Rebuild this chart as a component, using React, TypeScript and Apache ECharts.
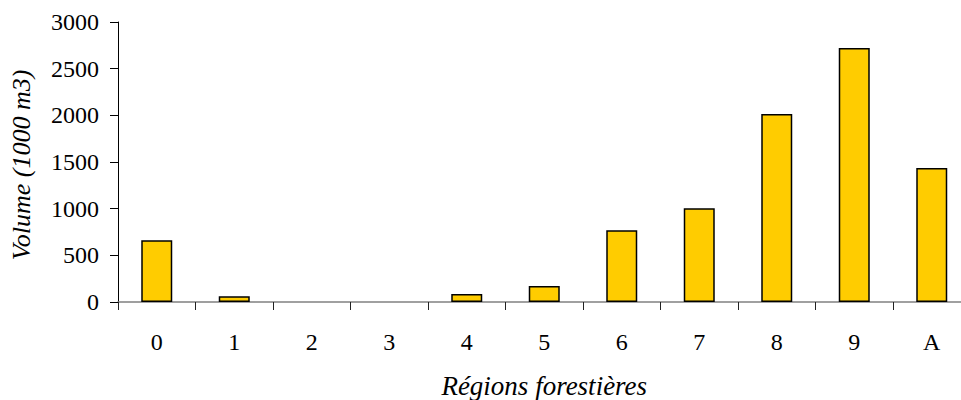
import React, { useEffect, useRef } from "react";
import * as echarts from "echarts";

const categories = ["0", "1", "2", "3", "4", "5", "6", "7", "8", "9", "A"];
const volumes = [662, 61, 0, 0, 86, 172, 769, 1005, 2013, 2721, 1437];
const yTicks = { min: 0, max: 3000, interval: 500 };
const xTitle = "Régions forestières";
const yTitle = "Volume (1000 m3)";

export default function App() {
  const ref = useRef<HTMLDivElement>(null);
  useEffect(() => {
    if (!ref.current) return;
    const chart = echarts.init(ref.current, undefined, { renderer: "svg" });
    const font = "'Liberation Serif', 'Times New Roman', serif";
    chart.setOption({
      animation: false,
      backgroundColor: "#ffffff",
      textStyle: { fontFamily: font },
      grid: {
        left: 118,
        top: 22,
        height: 280,
        width: 852.5,
        containLabel: false,
        outerBoundsMode: "none",
      },
      xAxis: {
        type: "category",
        data: categories,
        boundaryGap: true,
        name: xTitle,
        nameLocation: "middle",
        nameGap: 70,
        nameTextStyle: { fontFamily: font, fontSize: 27, fontStyle: "italic", color: "#000" },
        axisLine: { lineStyle: { color: "#808080", width: 1.5 } },
        axisTick: { show: true, length: 8, lineStyle: { color: "#222", width: 1 } },
        axisLabel: { fontFamily: font, fontSize: 24, color: "#000", margin: 28, interval: 0 },
        splitLine: { show: false },
      },
      yAxis: {
        type: "value",
        min: yTicks.min,
        max: yTicks.max,
        interval: yTicks.interval,
        name: yTitle,
        nameLocation: "middle",
        nameGap: 84,
        nameRotate: 90,
        nameTextStyle: { fontFamily: font, fontSize: 26, fontStyle: "italic", color: "#000", padding: [0, 6, 0, 0] },
        axisLine: { show: true, lineStyle: { color: "#000", width: 1 } },
        axisTick: { show: true, length: 8, lineStyle: { color: "#000", width: 1 } },
        axisLabel: {
          fontFamily: font,
          fontSize: 24,
          color: "#000",
          margin: 19,
          formatter: (v: number) => String(v),
        },
        splitLine: { show: false },
      },
      series: [
        {
          type: "bar",
          data: volumes.map((v) =>
            v === 0 ? { value: v, itemStyle: { borderWidth: 0, opacity: 0 } } : v
          ),
          barWidth: 31,
          itemStyle: { color: "#FFCC00", borderColor: "#000", borderWidth: 1.5 },
        },
      ],
    });
    return () => chart.dispose();
  }, []);
  return (
    <div
      ref={ref}
      style={{ position: "fixed", left: 0, top: 0, width: 961, height: 400, background: "#fff" }}
    />
  );
}
